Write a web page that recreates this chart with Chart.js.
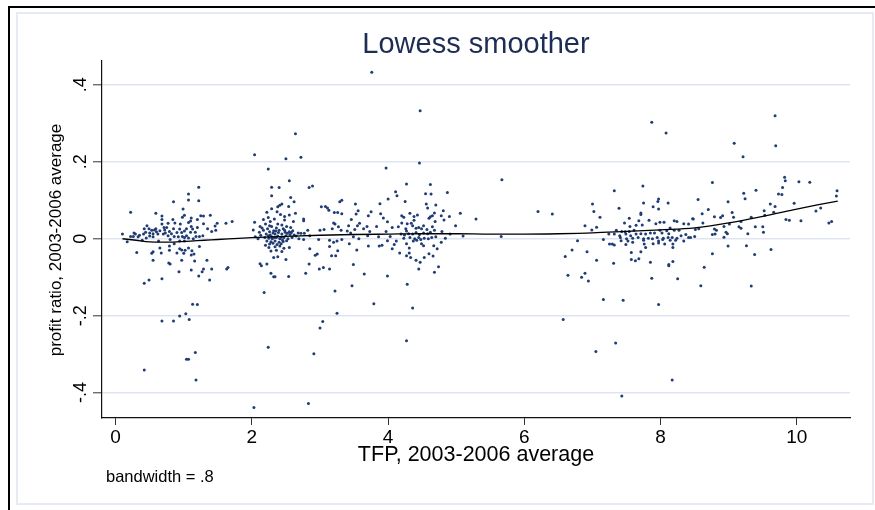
<!DOCTYPE html>
<html>
<head>
  <meta charset="utf-8">
  <script src="https://cdn.jsdelivr.net/npm/chart.js@4.4.0/dist/chart.umd.min.js"></script>
  <style>
    body { margin: 0; background: #fff; }
  </style>
</head>
<body>
<canvas id="myChart" width="875" height="510"></canvas>
<script>
const titleText = 'Lowess smoother';
const xTitle = 'TFP, 2003-2006 average';
const yTitle = 'profit ratio, 2003-2006 average';
const noteText = 'bandwidth = .8';
const xTicks = [0, 2, 4, 6, 8, 10];
const yTicks = [-0.4, -0.2, 0, 0.2, 0.4];
const yTickLabels = ['-.4', '-.2', '0', '.2', '.4'];

// firms as [TFP, profit ratio], grouped by TFP cluster
const firmsLow = [
  [1.22,0.134],[1.07,0.116],[1.07,0.101],[1.22,0.099],[0.85,0.096],[0.22,0.069],[0.59,0.066],[0.68,0.059],
  [0.68,0.050],[0.99,0.077],[1.01,0.061],[0.98,0.056],[1.11,0.054],[1.10,0.046],[1.07,0.042],[1.25,0.060],
  [1.29,0.059],[1.39,0.061],[1.20,0.050],[1.29,0.039],[1.49,0.040],[1.46,0.033],[1.62,0.040],[1.71,0.045],
  [0.84,0.050],[0.87,0.041],[0.95,0.038],[0.77,0.040],[0.68,0.038],[0.46,0.034],[0.42,0.026],[0.49,0.026],
  [0.57,0.023],[0.60,0.018],[0.65,0.021],[0.72,0.023],[0.75,0.029],[0.79,0.019],[0.85,0.026],[0.94,0.025],
  [0.97,0.016],[1.01,0.020],[1.04,0.026],[1.13,0.025],[1.17,0.017],[1.10,0.017],[1.20,0.029],[1.35,0.026],
  [1.41,0.019],[1.47,0.022],[1.28,0.008],[1.23,0.006],[1.18,0.006],[1.04,0.008],[0.98,0.006],[0.92,0.005],
  [0.86,0.006],[0.77,0.008],[0.70,0.012],[0.62,0.012],[0.55,0.013],[0.50,0.015],[0.41,0.012],[0.35,0.009],
  [0.29,0.012],[0.26,0.006],[0.22,0.006],[0.10,0.012],[0.17,-0.008],[0.39,-0.004],[0.45,0.002],[0.63,-0.006],
  [0.80,-0.002],[0.94,-0.006],[1.01,-0.006],[1.14,0.000],[0.86,-0.013],[0.65,-0.024],[0.79,-0.019],[0.94,-0.026],
  [0.97,-0.029],[1.02,-0.030],[1.07,-0.024],[1.23,-0.020],[1.12,-0.031],[0.55,-0.034],[0.53,-0.038],[0.67,-0.037],
  [0.31,-0.036],[0.79,-0.030],[0.90,-0.037],[1.00,-0.038],[1.11,-0.042],[1.15,-0.040],[0.97,-0.056],[0.55,-0.056],
  [0.78,-0.063],[0.80,-0.066],[1.16,-0.058],[1.34,-0.056],[1.41,-0.079],[1.29,-0.079],[1.27,-0.086],[1.11,-0.081],
  [0.93,-0.086],[1.22,-0.097],[1.38,-0.107],[1.63,-0.079],[1.65,-0.075],[0.68,-0.104],[0.49,-0.107],[0.42,-0.116],
  [0.27,0.015],[0.33,0.005],[0.44,0.017],[0.53,0.022],[0.59,0.026],[0.71,0.029],[0.73,0.015],[0.82,0.013],
  [0.90,0.016],[0.55,0.005],[0.50,0.007],[1.01,0.003],[1.07,0.002],[1.11,0.032],
  [1.13,-0.170],[1.20,-0.171],[1.03,-0.195],[0.94,-0.201],[0.68,-0.214],[0.85,-0.214],[1.08,-0.210],[1.17,-0.296],
  [1.04,-0.313],[1.07,-0.313],[0.42,-0.341],[1.18,-0.367]
];

const firmsMid = [
  [2.04,0.218],[2.50,0.208],[2.72,0.212],[2.24,0.181],[2.55,0.151],[2.29,0.134],[2.40,0.133],[2.29,0.112],
  [2.84,0.133],[2.89,0.137],[2.57,0.107],[2.62,0.096],[2.44,0.090],[2.38,0.083],[2.41,0.087],[2.29,0.078],
  [2.54,0.084],[2.37,0.070],[2.42,0.063],[2.48,0.058],[2.55,0.062],[2.64,0.066],[2.48,0.049],[2.61,0.045],
  [2.76,0.051],[2.76,0.047],[2.22,0.069],[2.24,0.055],[2.17,0.050],[2.04,0.043],[2.12,0.032],[2.20,0.038],
  [2.27,0.045],[2.33,0.051],[2.38,0.038],[2.29,0.032],[2.44,0.036],[2.51,0.032],[2.57,0.029],[2.60,0.021],
  [2.02,0.023],[2.11,0.017],[2.17,0.022],[2.23,0.026],[2.26,0.018],[2.32,0.021],[2.36,0.028],[2.40,0.022],
  [2.46,0.026],[2.49,0.017],[2.55,0.018],[2.68,0.015],[2.72,0.014],[2.77,0.014],[2.82,0.022],[2.13,0.009],
  [2.21,0.012],[2.27,0.010],[2.34,0.012],[2.38,0.007],[2.44,0.012],[2.50,0.008],[2.56,0.011],[2.65,0.007],
  [2.19,0.003],[2.25,0.001],[2.30,0.000],[2.36,0.003],[2.41,0.000],[2.47,0.003],[2.53,0.000],[2.59,0.003],
  [2.69,0.000],[2.76,-0.002],[2.85,0.008],[2.22,-0.006],[2.28,-0.008],[2.34,-0.006],[2.40,-0.009],[2.46,-0.007],
  [2.20,-0.017],[2.25,-0.023],[2.34,-0.021],[2.41,-0.019],[2.47,-0.025],[2.55,-0.023],[2.28,-0.032],[2.36,-0.030],
  [2.44,-0.033],[2.32,-0.049],[2.38,-0.047],[2.50,-0.054],[2.12,-0.065],[2.14,-0.070],[2.22,-0.066],[2.28,-0.090],
  [2.32,-0.099],[2.34,-0.099],[2.54,-0.098],[2.85,-0.026],[2.93,-0.043],[2.96,-0.040],[2.84,-0.066],[2.79,-0.090],
  [2.99,-0.079],[2.98,-0.002],[2.64,0.273],
  [2.15,0.028],[2.26,0.034],[2.31,0.015],[2.35,0.020],[2.39,0.016],[2.43,0.004],[2.48,0.022],[2.52,0.014],
  [2.58,0.016],[2.62,0.010],[2.24,0.008],[2.29,0.005],[2.33,0.003],[2.45,-0.003],[2.51,-0.005],[2.26,-0.014],
  [2.31,-0.012],[2.37,-0.015],[2.43,-0.013],[2.05,0.005],[2.09,0.000],
  [2.18,-0.140],[2.24,-0.282],[2.91,-0.299],[2.03,-0.439],[2.83,-0.428],[3.00,-0.232],[3.04,-0.215]
];

const firmsHigh = [
  [3.05,-0.075],[3.14,-0.079],[3.17,-0.044],[3.23,-0.044],[3.26,-0.031],[3.14,-0.020],[3.47,-0.122],[3.49,-0.067],
  [3.65,-0.092],[3.43,-0.013],[3.54,-0.029],[3.57,0.000],[3.71,-0.019],[3.87,-0.019],[3.91,-0.017],[3.99,-0.097],
  [4.06,-0.026],[4.09,-0.015],[4.28,-0.118],[3.14,-0.004],[3.20,-0.009],[3.25,-0.006],[3.32,-0.002],[3.00,0.022],
  [3.06,0.024],[3.18,0.026],[3.22,0.038],[3.20,0.041],[3.27,0.031],[3.31,0.022],[3.40,0.020],[3.45,0.015],
  [3.51,0.024],[3.55,0.034],[3.58,0.040],[3.46,0.050],[3.53,0.064],[3.56,0.073],[3.52,0.090],[3.32,0.100],
  [3.29,0.096],[3.26,0.068],[3.32,0.065],[3.21,0.068],[3.13,0.074],[3.08,0.084],[3.02,0.083],[3.11,0.080],
  [3.64,0.026],[3.69,0.032],[3.71,0.060],[3.75,0.070],[3.83,0.032],[3.89,0.065],[3.93,0.054],[3.99,0.044],
  [3.88,0.091],[4.00,0.103],[3.97,0.184],[4.11,0.122],[4.13,0.112],[4.27,0.142],[4.25,0.097],[3.97,0.019],
  [3.73,0.019],[3.86,0.005],[4.03,0.006],[4.12,-0.006],[3.99,-0.005],[3.70,0.008],[3.49,0.005],[3.42,0.034],
  [4.06,0.029],[4.15,0.031],
  [3.22,-0.136],[3.79,-0.169],[4.36,-0.180],[3.25,-0.194],[4.27,-0.265],[3.76,0.433],[4.47,0.333],[4.46,0.197],
  [4.62,0.141],[4.87,0.120],
  [4.55,0.117],[4.63,0.116],[4.56,0.090],[4.58,0.080],[4.70,0.088],[4.81,0.073],[5.06,0.066],[5.29,0.051],
  [6.20,0.071],[6.41,0.064],[4.20,0.060],[4.23,0.056],[4.32,0.066],[4.38,0.058],[4.43,0.062],[4.60,0.053],
  [4.62,0.057],[4.65,0.060],[4.68,0.067],[4.69,0.045],[4.78,0.060],[4.82,0.049],[4.90,0.058],[4.99,0.034],
  [4.38,0.048],[4.20,0.041],[4.28,0.039],[4.34,0.040],[4.36,0.034],[4.26,0.026],[4.27,0.020],[4.41,0.027],
  [4.45,0.029],[4.49,0.026],[4.52,0.034],[4.57,0.024],[4.65,0.031],[4.68,0.022],[4.79,0.019],[4.91,0.012],
  [5.10,0.007],[5.66,0.006],[4.19,0.012],[4.24,0.010],[4.30,0.013],[4.36,0.012],[4.41,0.016],[4.46,0.011],
  [4.52,0.015],[4.58,0.013],[4.62,0.017],[4.23,0.001],[4.32,0.003],[4.39,0.000],[4.45,0.003],[4.53,0.001],
  [4.59,0.000],[4.64,0.003],[4.70,0.005],[4.84,0.001],[4.37,-0.006],[4.42,-0.004],[4.48,-0.002],[4.78,-0.009],
  [4.27,-0.013],[4.49,-0.013],[4.52,-0.018],[4.67,-0.018],[4.31,-0.024],[4.72,-0.026],[4.17,-0.037],[4.31,-0.037],
  [4.27,-0.044],[4.33,-0.049],[4.60,-0.039],[4.66,-0.045],[4.53,-0.049],[4.41,-0.056],[4.47,-0.061],[4.45,-0.079],
  [4.74,-0.073],[4.68,-0.087],[5.67,0.153]
];

const firmsTop = [
  [6.57,-0.210],[7.05,-0.293],[7.34,-0.271],[7.43,-0.409],[8.17,-0.367],[7.97,-0.171],[9.33,-0.123],[6.60,-0.046],
  [6.64,-0.095],[6.70,-0.029],[6.78,-0.005],[7.87,0.303],[8.08,0.275],[7.32,0.125],[7.74,0.137],
  [8.76,0.146],[7.00,0.090],[7.02,0.071],[7.39,0.079],[7.75,0.093],[7.71,0.067],[7.71,0.063],[7.97,0.103],
  [7.96,0.097],[8.11,0.093],[7.89,0.083],[7.97,0.077],[7.11,0.056],[6.89,0.034],[7.06,0.030],[6.99,0.023],
  [7.47,0.041],[7.54,0.053],[7.55,0.032],[7.68,0.047],[7.64,0.035],[7.73,0.036],[7.83,0.048],[7.93,0.039],
  [7.99,0.043],[8.05,0.043],[8.20,0.047],[8.24,0.045],[8.14,0.028],[8.55,0.102],[8.61,0.065],[8.70,0.076],
  [8.79,0.057],[8.47,0.052],[8.48,0.051],[8.62,0.041],[8.34,0.039],[8.41,0.038],[8.51,0.024],[8.56,0.026],
  [8.27,0.022],[8.20,0.022],[8.09,0.021],[7.99,0.022],[7.35,0.022],[7.43,0.019],[7.48,0.018],[7.54,0.019],
  [7.61,0.022],[7.24,0.012],[7.32,0.012],[7.40,0.008],[7.49,0.012],[7.56,0.008],[7.64,0.012],[7.71,0.013],
  [7.78,0.012],[7.85,0.015],[7.91,0.015],[8.02,0.015],[8.12,0.013],[8.30,0.008],[8.37,0.011],[8.44,0.003],
  [8.50,0.006],[8.76,0.011],[8.80,0.012],[7.41,0.003],[7.50,0.000],[7.59,0.001],[7.67,0.003],[7.75,0.000],
  [7.82,0.001],[7.88,0.000],[7.95,0.003],[8.04,0.001],[8.11,0.003],[8.17,0.003],[8.24,0.001],[7.16,-0.002],
  [7.42,-0.005],[7.52,-0.006],[7.75,-0.004],[7.97,-0.006],[8.03,-0.002],[8.14,-0.004],[8.22,-0.004],[8.34,-0.006],
  [8.41,0.003],[7.25,-0.014],[7.29,-0.014],[7.32,-0.016],[7.49,-0.015],[7.76,-0.014],[7.89,-0.013],[7.97,-0.011],
  [8.06,-0.014],[8.18,-0.014],[7.59,-0.009],[7.78,-0.023],[8.18,-0.023],[6.92,-0.034],[7.57,-0.036],[7.71,-0.034],
  [7.06,-0.056],[7.31,-0.064],[7.57,-0.054],[7.63,-0.057],[7.68,-0.052],[7.85,-0.061],[8.12,-0.067],[8.12,-0.070],
  [8.18,-0.059],[8.76,-0.039],[8.64,-0.074],[6.89,-0.090],[6.84,-0.100],[6.94,-0.110],[7.87,-0.103],[8.25,-0.104],
  [8.59,-0.122],[7.16,-0.158],[7.45,-0.160],
  [9.68,0.320],[9.69,0.242],[9.08,0.248],[9.21,0.213],[9.82,0.160],[9.83,0.151],[10.03,0.148],[10.19,0.147],
  [9.40,0.126],[9.79,0.133],[9.22,0.118],[9.24,0.104],[9.73,0.116],[9.78,0.115],[10.59,0.125],[10.58,0.111],
  [8.99,0.096],[9.61,0.090],[9.68,0.084],[9.96,0.092],[9.05,0.068],[9.07,0.056],[9.52,0.073],[9.66,0.069],
  [9.53,0.061],[10.28,0.072],[10.35,0.080],[8.88,0.055],[8.91,0.060],[9.33,0.056],[9.18,0.045],[9.84,0.050],
  [9.89,0.048],[10.06,0.047],[10.47,0.041],[10.51,0.045],[9.01,0.038],[9.15,0.031],[9.18,0.027],[9.39,0.031],
  [9.50,0.031],[9.51,0.017],[9.28,0.013],[8.93,0.032],[8.79,0.025],[8.82,0.022],[8.96,0.017],[8.98,0.013],
  [8.93,0.004],[8.99,-0.019],[9.26,-0.018],[9.62,-0.028],[9.38,-0.041]
];

// lowess fit
const lowessX = [0.1, 0.3, 0.5, 0.7, 0.9, 1.1, 1.3, 1.5, 1.8, 2.0, 2.3, 2.6, 3.0, 3.5, 4.0, 4.5, 5.0, 5.5, 6.0, 6.5, 7.0, 7.5, 8.0, 8.5, 9.0, 9.5, 10.0, 10.3, 10.6];
const lowessY = [0.000, -0.004, -0.008, -0.009, -0.008, -0.006, -0.004, -0.002, 0.001, 0.003, 0.005, 0.007, 0.009, 0.011, 0.012, 0.013, 0.013, 0.012, 0.012, 0.013, 0.015, 0.019, 0.023, 0.028, 0.041, 0.058, 0.077, 0.088, 0.098];

const font = '"Liberation Sans", Arial, sans-serif';
const points = [].concat(firmsLow, firmsMid, firmsHigh, firmsTop).map(p => ({ x: p[0], y: p[1] }));
const fit = lowessX.map((x, i) => ({ x: x, y: lowessY[i] }));

const stataFrame = {
  id: 'stataFrame',
  beforeDraw(chart) {
    const c = chart.ctx;
    c.save();
    c.fillStyle = '#fff';
    c.fillRect(0, 0, chart.width, chart.height);
    c.strokeStyle = '#e6ebf3';
    c.lineWidth = 2;
    c.strokeRect(17, 13, 856, 491);
    c.strokeStyle = '#000';
    c.lineWidth = 2;
    c.beginPath();
    c.moveTo(9, 510); c.lineTo(9, 7); c.lineTo(875, 7);
    c.stroke();
    c.restore();
  },
  afterDraw(chart) {
    const c = chart.ctx, xs = chart.scales.x, ys = chart.scales.y;
    c.save();
    c.textAlign = 'center';
    c.textBaseline = 'middle';
    c.fillStyle = '#1e2d55';
    c.font = '29px ' + font;
    c.fillText(titleText, 476, 45);

    c.fillStyle = '#000';
    c.font = '19px ' + font;
    xTicks.forEach(v => c.fillText(String(v), xs.getPixelForValue(v), 438));
    c.font = '21.5px ' + font;
    c.fillText(xTitle, 476, 455);

    c.font = '18px ' + font;
    yTicks.forEach((v, i) => {
      c.save();
      c.translate(81, ys.getPixelForValue(v));
      c.rotate(-Math.PI / 2);
      c.fillText(yTickLabels[i], 0, 0);
      c.restore();
    });
    c.font = '17px ' + font;
    c.save();
    c.translate(56, 240);
    c.rotate(-Math.PI / 2);
    c.fillText(yTitle, 0, 0);
    c.restore();

    c.font = '16.5px ' + font;
    c.textAlign = 'left';
    c.fillText(noteText, 106, 477);
    c.restore();
  }
};

const ctx = document.getElementById('myChart').getContext('2d');
const myChart = new Chart(ctx, {
  type: 'scatter',
  data: {
    datasets: [{
      label: 'lowess',
      data: fit,
      showLine: true,
      borderColor: '#000',
      borderWidth: 1.3,
      pointRadius: 0,
      cubicInterpolationMode: 'monotone',
      order: 0
    }, {
      label: 'profit ratio',
      data: points,
      pointRadius: 1.5,
      pointBackgroundColor: '#1f3c73',
      pointBorderWidth: 0,
      order: 1
    }]
  },
  options: {
    responsive: false,
    animation: false,
    layout: { padding: { left: 0, top: 61, right: 25, bottom: 42 } },
    plugins: { legend: { display: false }, tooltip: { enabled: false } },
    scales: {
      x: {
        type: 'linear',
        min: -0.2,
        max: 10.78,
        afterBuildTicks: s => { s.ticks = xTicks.map(v => ({ value: v })); },
        afterFit: s => { s.height = 50; },
        ticks: { display: false },
        grid: { drawOnChartArea: false, tickLength: 7, tickColor: '#333', tickWidth: 1 },
        border: { color: '#111', width: 1.2 }
      },
      y: {
        min: -0.466,
        max: 0.462,
        afterBuildTicks: s => { s.ticks = yTicks.map(v => ({ value: v })); },
        afterFit: s => { s.width = 102; },
        ticks: { display: false },
        grid: { color: '#dfe5ef', lineWidth: 1.6, tickLength: 9, tickColor: '#333', tickWidth: 1 },
        border: { color: '#111', width: 1.2 }
      }
    }
  },
  plugins: [stataFrame]
});
</script>
</body>
</html>
